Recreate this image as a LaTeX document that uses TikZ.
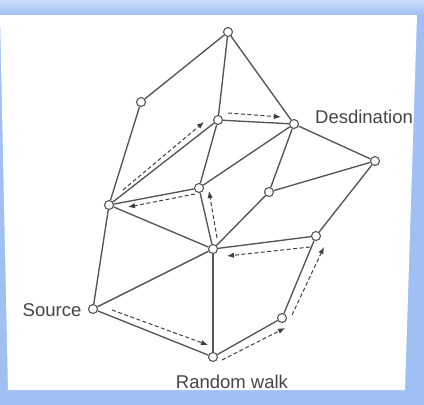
\documentclass[tikz,border=0pt]{standalone}
\usepackage{fontspec}
\setmainfont{Liberation Sans}
\usetikzlibrary{arrows.meta}
\definecolor{framebl}{RGB}{160,192,244}
\definecolor{edgegr}{RGB}{85,85,85}
\definecolor{txtgr}{RGB}{70,70,70}
\tikzset{
  vtx/.style={circle,draw=edgegr,fill=white,line width=1.1pt,minimum size=9pt,inner sep=0pt},
  edge/.style={draw=edgegr,line width=1.35pt},
  walk/.style={draw=black!75,line width=1pt,dash pattern=on 4pt off 2.5pt,-{Latex[length=7pt,width=5.5pt]}},
  lbl/.style={text=txtgr,font=\fontsize{18.5}{21}\selectfont,inner sep=0pt}
}
\begin{document}
\begin{tikzpicture}[x=1pt,y=-1pt]
\useasboundingbox (0,0) rectangle (424,405);
\fill[framebl] (0,0) rectangle (424,405);
\shade[top color=framebl!55,bottom color=framebl] (0,0) rectangle (424,15);
\fill[white] (0,15) -- (417,15) -- (405,390) -- (8,390) -- cycle;
% nodes
\node[vtx] (T) at (228,32) {};
\node[vtx] (L1) at (141,102) {};
\node[vtx] (A) at (218,120) {};
\node[vtx] (D) at (294,124) {};
\node[vtx] (R) at (375,161) {};
\node[vtx] (M) at (199,188) {};
\node[vtx] (N) at (269,192) {};
\node[vtx] (W) at (109,205) {};
\node[vtx] (C) at (213,249) {};
\node[vtx] (E) at (316,236) {};
\node[vtx] (S) at (93,309) {};
\node[vtx] (F) at (282,318) {};
\node[vtx] (B) at (213,357) {};
% edges
\foreach \a/\b in {T/L1,T/A,T/D,L1/W,A/D,A/W,A/M,D/M,D/N,D/R,R/N,R/E,M/W,M/C,N/C,W/C,W/S,C/E,C/S,C/B,E/F,F/B,S/B}
  \path[edge] (\a) -- (\b);
% walk arrows
\coordinate (w1s) at (123,190); \coordinate (w1e) at (204,122);
\coordinate (w2s) at (228,113); \coordinate (w2e) at (281,117);
\coordinate (w3s) at (195,194); \coordinate (w3e) at (128,207);
\coordinate (w4s) at (217,238); \coordinate (w4e) at (209,191);
\coordinate (w5s) at (310,247); \coordinate (w5e) at (227,256);
\coordinate (w6s) at (292,315); \coordinate (w6e) at (324,247);
\coordinate (w7s) at (222,360); \coordinate (w7e) at (285,328);
\coordinate (w8s) at (112,310); \coordinate (w8e) at (208,345);
\foreach \i in {1,...,8} \draw[walk] (w\i s) -- (w\i e);
% labels
\node[lbl] (dest) at (364,117) {Desdination};
\node[lbl] (src) at (52,310) {Source};
\node[lbl] (rw) at (232,382) {Random walk};
\end{tikzpicture}
\end{document}
